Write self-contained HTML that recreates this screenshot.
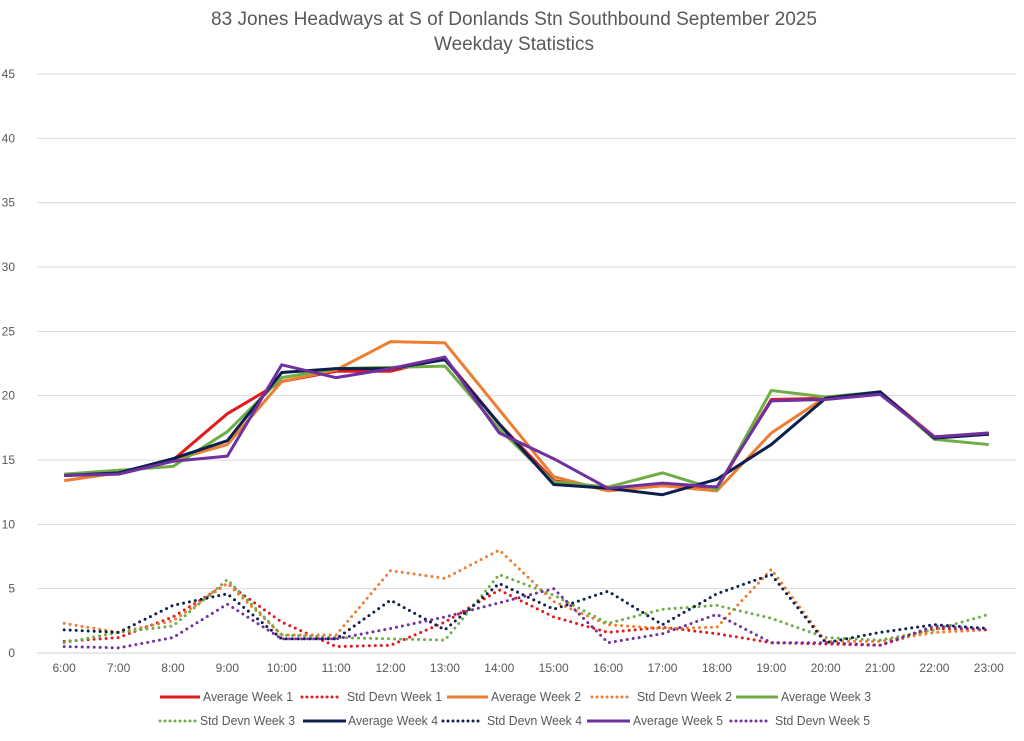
<!DOCTYPE html>
<html><head><meta charset="utf-8"><style>
body{margin:0;background:#fff;}
svg{display:block;font-family:"Liberation Sans",sans-serif;}
</style></head><body>
<svg id="chart" width="1024" height="741" viewBox="0 0 1024 741">
<text x="514" y="25" text-anchor="middle" font-size="19" fill="#595959" textLength="606" lengthAdjust="spacingAndGlyphs">83 Jones Headways at S of Donlands Stn Southbound September 2025</text>
<text x="514" y="50" text-anchor="middle" font-size="19" fill="#595959" textLength="160" lengthAdjust="spacingAndGlyphs">Weekday Statistics</text>
<g id="grid"></g><g id="series"></g><g id="legend"></g>
</svg>
<script>
const categories=["6:00","7:00","8:00","9:00","10:00","11:00","12:00","13:00","14:00","15:00","16:00","17:00","18:00","19:00","20:00","21:00","22:00","23:00"];
const yTicks=[0,5,10,15,20,25,30,35,40,45];
const avgW1=[13.8,14.0,15.0,18.6,21.1,21.9,21.9,22.9,17.8,13.4,12.7,13.0,12.8,19.7,19.8,20.3,16.8,17.0];
const sdW1=[0.9,1.2,2.8,5.4,2.4,0.5,0.6,2.4,4.9,2.8,1.6,2.0,1.5,0.8,0.7,0.6,1.9,1.8];
const avgW2=[13.4,14.0,15.0,16.2,21.1,22.0,24.2,24.1,18.9,13.7,12.6,13.0,12.6,17.1,19.9,20.2,16.8,17.1];
const sdW2=[2.3,1.6,2.5,5.4,1.4,1.4,6.4,5.8,8.0,4.0,2.2,1.9,2.0,6.5,0.9,0.9,1.6,1.8];
const avgW3=[13.9,14.2,14.5,17.2,21.4,22.1,22.2,22.3,17.4,13.3,12.9,14.0,12.7,20.4,19.9,20.3,16.6,16.2];
const sdW3=[0.8,1.6,2.1,5.7,1.4,1.2,1.1,1.0,6.1,4.5,2.3,3.4,3.7,2.7,1.2,1.0,1.8,3.0];
const avgW4=[13.8,14.0,15.1,16.5,21.8,22.1,22.1,22.8,17.8,13.1,12.8,12.3,13.5,16.2,19.8,20.3,16.7,17.0];
const sdW4=[1.8,1.6,3.7,4.6,1.1,1.1,4.1,1.8,5.4,3.4,4.8,2.2,4.6,6.1,0.8,1.6,2.2,1.9];
const avgW5=[13.8,13.9,14.9,15.3,22.4,21.4,22.1,23.0,17.1,15.1,12.8,13.2,12.9,19.6,19.7,20.1,16.8,17.1];
const sdW5=[0.5,0.4,1.2,3.8,1.1,1.1,1.9,2.8,3.9,5.0,0.8,1.5,3.0,0.8,0.8,0.6,2.1,1.8];

const NS="http://www.w3.org/2000/svg";
const X0=37,X1=1016,Y0=653,Y45=74;
const xStep=(X1-X0)/categories.length;
function xs(i){return X0+xStep*(i+0.5);}
function ys(v){return Y0-(v/45)*(Y0-Y45);}
function mk(tag,attrs,parent){const e=document.createElementNS(NS,tag);for(const k in attrs)e.setAttribute(k,attrs[k]);parent.appendChild(e);return e;}
const grid=document.getElementById('grid');
yTicks.forEach(t=>{
  const l=mk('line',{x1:X0,x2:X1,y1:ys(t),y2:ys(t),stroke:t===0?'#d0d0d0':'#d9d9d9','stroke-width':1},grid);
  
  
  const tx=mk('text',{x:15,y:ys(t)+4,'text-anchor':'end','font-size':12,fill:'#595959'},grid);
  tx.textContent=t;
  
  
});
categories.forEach((c,i)=>{
  const tx=mk('text',{x:xs(i),y:672,'text-anchor':'middle','font-size':12,fill:'#595959'},grid);
  tx.textContent=c;
  
  
});
const series=[
 {n:"Average Week 1",d:avgW1,c:"#e31a1c",dot:false},
 {n:"Std Devn Week 1",d:sdW1,c:"#e31a1c",dot:true},
 {n:"Average Week 2",d:avgW2,c:"#ed7d31",dot:false},
 {n:"Std Devn Week 2",d:sdW2,c:"#ed7d31",dot:true},
 {n:"Average Week 3",d:avgW3,c:"#70ad47",dot:false},
 {n:"Std Devn Week 3",d:sdW3,c:"#70ad47",dot:true},
 {n:"Average Week 4",d:avgW4,c:"#0c1f4f",dot:false},
 {n:"Std Devn Week 4",d:sdW4,c:"#0c1f4f",dot:true},
 {n:"Average Week 5",d:avgW5,c:"#7030a0",dot:false},
 {n:"Std Devn Week 5",d:sdW5,c:"#7030a0",dot:true}
];
const sg=document.getElementById('series');
series.forEach(s=>{
  const p=mk('polyline',{points:s.d.map((v,i)=>xs(i)+','+ys(v)).join(' '),fill:'none',stroke:s.c,'stroke-width':3,'stroke-linejoin':'round'},sg);
  if(s.dot){p.setAttribute('stroke-dasharray','0 6');p.setAttribute('stroke-linecap','round');}
  
  
});
const lg=document.getElementById('legend');
const pos=[[160,200,203,701],[302,340,347,701],[447,488,491,701],[592,630,637,701],[736,778,781,701],
           [160,197,200,725],[303,346,348,725],[443,480,487,725],[587,630,633,725],[731,769,775,725]];
series.forEach((s,k)=>{
  const [a,b,t,y]=pos[k];
  const g=mk('g',{},lg);
  
  
  const l=mk('line',{x1:a,x2:b,y1:y-4,y2:y-4,stroke:s.c,'stroke-width':3},g);
  if(s.dot){l.setAttribute('stroke-dasharray','0 5');l.setAttribute('stroke-linecap','round');}
  const tx=mk('text',{x:t,y:y,'font-size':13,fill:'#595959'},g);
  tx.setAttribute('textLength', s.n.startsWith('Average')?90:95);
  tx.setAttribute('lengthAdjust','spacingAndGlyphs');
  tx.textContent=s.n;
});
</script>
</body></html>
